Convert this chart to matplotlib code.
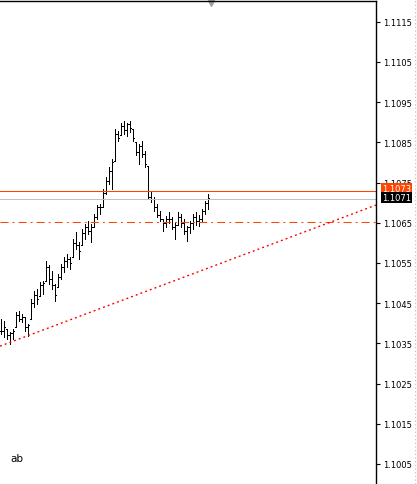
import numpy as np
import matplotlib
matplotlib.use("Agg")
import matplotlib.pyplot as plt
import matplotlib.transforms as mtransforms
from matplotlib.lines import Line2D

plt.rcParams['lines.scale_dashes'] = False

# --- Bar data (one bar every 3 px) ---
highs = [1.10410, 1.10406, 1.10386, 1.10378, 1.10386, 1.10428, 1.10430, 1.10423, 1.10415, 1.10398,
         1.10460, 1.10480, 1.10485, 1.10503, 1.10505, 1.10555, 1.10545, 1.10530, 1.10498, 1.10523,
         1.10547, 1.10565, 1.10572, 1.10565, 1.10610, 1.10627, 1.10602, 1.10634, 1.10647, 1.10654,
         1.10647, 1.10672, 1.10694, 1.10697, 1.10734, 1.10764, 1.10789, 1.10809, 1.10883, 1.10878,
         1.10898, 1.10903, 1.10898, 1.10903, 1.10883, 1.10851, 1.10846, 1.10854, 1.10829, 1.10791,
         1.10729, 1.10714, 1.10697, 1.10679, 1.10659, 1.10667, 1.10677, 1.10664, 1.10652, 1.10677,
         1.10672, 1.10659, 1.10642, 1.10654, 1.10672, 1.10677, 1.10669, 1.10684, 1.10704, 1.10722]
lows = [1.10373, 1.10366, 1.10361, 1.10348, 1.10361, 1.10391, 1.10406, 1.10403, 1.10381, 1.10368,
        1.10410, 1.10440, 1.10448, 1.10468, 1.10473, 1.10505, 1.10498, 1.10485, 1.10455, 1.10490,
        1.10510, 1.10528, 1.10540, 1.10535, 1.10565, 1.10585, 1.10560, 1.10595, 1.10610, 1.10622,
        1.10602, 1.10639, 1.10659, 1.10672, 1.10689, 1.10722, 1.10747, 1.10734, 1.10804, 1.10854,
        1.10868, 1.10871, 1.10866, 1.10876, 1.10854, 1.10819, 1.10796, 1.10814, 1.10789, 1.10709,
        1.10702, 1.10679, 1.10664, 1.10654, 1.10630, 1.10639, 1.10650, 1.10634, 1.10610, 1.10644,
        1.10639, 1.10622, 1.10605, 1.10625, 1.10634, 1.10644, 1.10642, 1.10654, 1.10672, 1.10684]
closes = [1.10380, 1.10390, 1.10370, 1.10375, 1.10380, 1.10420, 1.10410, 1.10415, 1.10390, 1.10395,
          1.10450, 1.10470, 1.10460, 1.10495, 1.10500, 1.10540, 1.10510, 1.10495, 1.10470, 1.10515,
          1.10540, 1.10555, 1.10560, 1.10550, 1.10600, 1.10595, 1.10580, 1.10625, 1.10640, 1.10630,
          1.10640, 1.10665, 1.10690, 1.10690, 1.10725, 1.10755, 1.10780, 1.10800, 1.10870, 1.10860,
          1.10890, 1.10880, 1.10895, 1.10885, 1.10860, 1.10825, 1.10840, 1.10820, 1.10795, 1.10715,
          1.10710, 1.10690, 1.10670, 1.10660, 1.10650, 1.10660, 1.10660, 1.10640, 1.10645, 1.10665,
          1.10650, 1.10630, 1.10640, 1.10650, 1.10665, 1.10655, 1.10660, 1.10680, 1.10700, 1.10712]

# --- Lines / levels ---
ask_price = 1.1073
bid_price = 1.1071
level_price = 1.10652
trend_x = [-0.33, 125]
trend_p = [1.10343, 1.10694]
yticks = [1.1005, 1.1015, 1.1025, 1.1035, 1.1045, 1.1055, 1.1065, 1.1075, 1.1085, 1.1095, 1.1105, 1.1115]

highs = np.array(highs)
lows = np.array(lows)
closes = np.array(closes)
opens = np.clip(np.r_[closes[0], closes[:-1]], lows, highs)
x = np.arange(len(closes))

fig = plt.figure(figsize=(4.17, 4.85), dpi=100)
ax = fig.add_axes([0, 0, 376 / 417, 483.5 / 485])

lw = 0.72
ax.vlines(x, lows, highs, color='black', linewidth=lw, antialiased=False)
ax.hlines(opens, x - 0.36, x, color='black', linewidth=lw, antialiased=False)
ax.hlines(closes, x, x + 0.36, color='black', linewidth=lw, antialiased=False)

ax.axhline(ask_price, color='#ff4500', linewidth=0.75)
ax.axhline(bid_price, color='#c0c0c0', linewidth=0.75)
ax.axhline(level_price, color='#ff4500', linewidth=0.75, linestyle=(0, (5.8, 2.9, 1.4, 2.9)))
ax.plot(trend_x, trend_p, color='red', linewidth=1.0, linestyle=(0, (1.4, 2.2)))

ax.set_xlim(-0.333, 125)
ax.set_ylim(1.1000, 1.11203)
ax.set_xticks([])
ax.yaxis.tick_right()
ax.set_yticks(yticks)
ax.set_yticklabels(['%.4f' % t for t in yticks])
ax.tick_params(axis='y', direction='out', length=3, width=0.8, pad=2, labelsize=6, colors='black')
for s in ['left', 'bottom']:
    ax.spines[s].set_visible(False)
for s in ['top', 'right']:
    ax.spines[s].set_linewidth(1.0)

# price labels on the scale
trans = mtransforms.blended_transform_factory(ax.transAxes, ax.transData)
ax.text(1.015, ask_price + 0.00005, '%.4f' % ask_price, transform=trans, fontsize=6, color='white',
        va='center', ha='left', bbox=dict(boxstyle='square,pad=0.12', fc='#ff4500', ec='none'))
ax.text(1.015, bid_price + 0.00003, '%.4f' % bid_price, transform=trans, fontsize=6, color='white',
        va='center', ha='left', bbox=dict(boxstyle='square,pad=0.12', fc='black', ec='none'))

# chart shift marker and right border
ax.plot([0.561], [0.995], marker='v', markersize=4, color='#a0a0a0', transform=ax.transAxes, clip_on=False)
fig.add_artist(Line2D([415 / 417, 415 / 417], [0, 1], color='#d8bfd8', linewidth=0.8, linestyle=':'))

fig.text(10 / 417, 1 - 459 / 485, 'ab', fontsize=7.5, va='center', ha='left', color='black')

fig.savefig('out.png', dpi=100)
